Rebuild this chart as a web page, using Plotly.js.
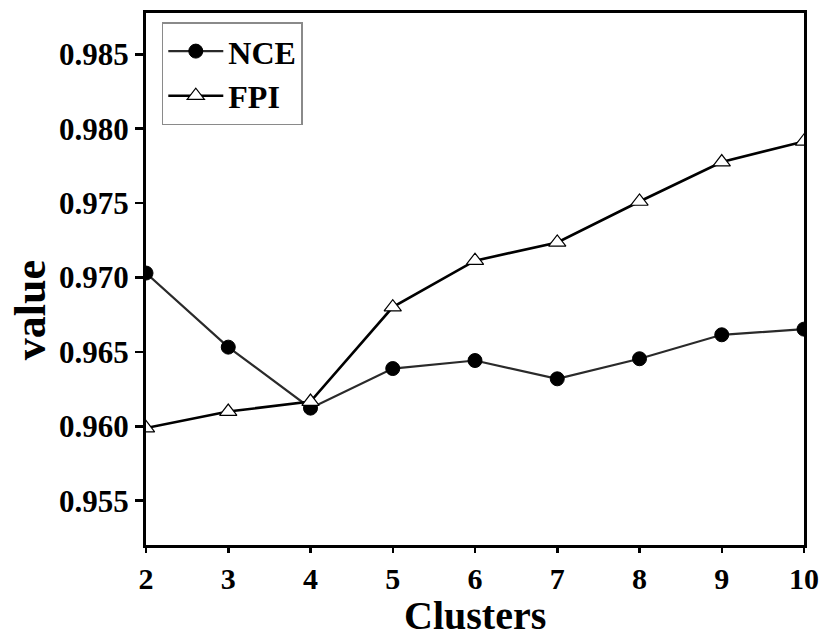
<!DOCTYPE html>
<html>
<head>
<meta charset="utf-8">
<script src="https://cdn.plot.ly/plotly-3.0.1.min.js"></script>
<style>html,body{margin:0;padding:0;background:#fff;}#chart{width:824px;height:637px;}</style>
</head>
<body>
<div id="chart"></div>
<script>
var clusters = [2, 3, 4, 5, 6, 7, 8, 9, 10];
var nceValues = [0.9703, 0.96532, 0.96122, 0.96388, 0.96442, 0.96319, 0.96454, 0.96615, 0.96653];
var fpiValues = [0.95988, 0.96099, 0.96166, 0.96801, 0.97113, 0.97236, 0.97511, 0.97776, 0.97915];
var yTicks = [0.955, 0.960, 0.965, 0.970, 0.975, 0.980, 0.985];
var seriesNames = ['NCE', 'FPI'];
var xTitle = 'Clusters';
var yTitle = 'value';

var FONT = '"Liberation Serif", "Times New Roman", serif';

var traces = [
  {
    x: clusters, y: nceValues, name: seriesNames[0], type: 'scatter', mode: 'lines+markers',
    line: {color: '#2a2a2a', width: 2.2},
    marker: {symbol: 'circle', size: 14, color: '#000000', line: {color: '#000000', width: 1}},
    cliponaxis: true
  },
  {
    x: clusters, y: fpiValues, name: seriesNames[1], type: 'scatter', mode: 'lines+markers',
    line: {color: '#000000', width: 2.6},
    marker: {symbol: 'triangle-up', size: 15, color: '#ffffff', line: {color: '#000000', width: 1.2}},
    cliponaxis: true
  }
];

var layout = {
  width: 824, height: 637,
  margin: {l: 146, r: 20, t: 13, b: 92, pad: 0},
  paper_bgcolor: '#ffffff', plot_bgcolor: '#ffffff',
  font: {family: FONT, color: '#000000'},
  showlegend: true,
  legend: {
    x: 0.024, y: 0.9825, xanchor: 'left', yanchor: 'top',
    bgcolor: '#ffffff', bordercolor: '#8a8a8a', borderwidth: 1.5,
    font: {family: FONT, size: 32, color: '#000000', weight: 'bold'},
    tracegroupgap: 0, itemwidth: 55
  },
  xaxis: {
    range: [2, 10], tickvals: clusters, ticktext: clusters.map(String),
    showgrid: false, zeroline: false,
    showline: true, linecolor: '#000000', linewidth: 3, mirror: true,
    ticks: 'outside', ticklen: 5, tickwidth: 2.5, tickcolor: '#000000',
    tickfont: {family: FONT, size: 30, color: '#000000', weight: 'bold'}
  },
  yaxis: {
    range: [0.95202, 0.98778], tickvals: yTicks, ticktext: yTicks.map(function(v){return v.toFixed(3);}),
    showgrid: false, zeroline: false,
    showline: true, linecolor: '#000000', linewidth: 3, mirror: true,
    ticks: 'outside', ticklen: 8, tickwidth: 2.5, tickcolor: '#000000',
    tickfont: {family: FONT, size: 31, color: '#000000', weight: 'bold'}
  },
  annotations: [
    {text: xTitle, xref: 'paper', yref: 'paper', x: 0.5, y: -0.1325, xanchor: 'center', yanchor: 'middle',
     showarrow: false, borderpad: 0, font: {family: FONT, size: 40, color: '#000000', weight: 'bold'}},
    {text: yTitle, xref: 'paper', yref: 'paper', x: -0.176, y: 0.4417, xanchor: 'center', yanchor: 'middle',
     textangle: -90, showarrow: false, borderpad: 0, font: {family: FONT, size: 44, color: '#000000', weight: 'bold'}}
  ]
};

Plotly.newPlot('chart', traces, layout, {displayModeBar: false, staticPlot: true});
</script>
</body>
</html>
